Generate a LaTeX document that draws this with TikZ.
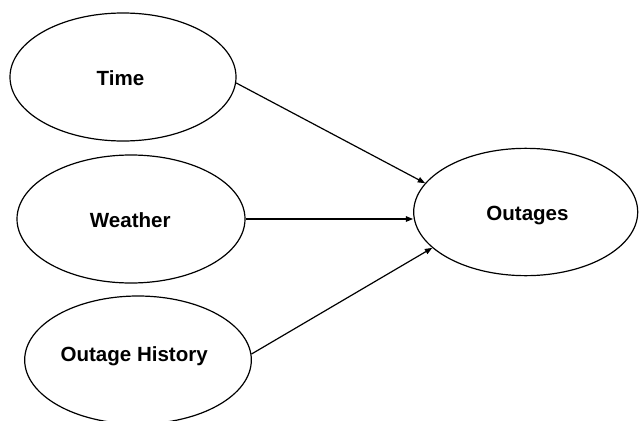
\documentclass[tikz,border=0pt]{standalone}
\usepackage{fontspec}
\setmainfont{Liberation Sans}
\usetikzlibrary{shapes.geometric,arrows.meta}
\begin{document}
\begin{tikzpicture}[x=0.75pt,y=-0.75pt,
  oval/.style={draw,line width=0.9pt,ellipse,inner sep=0pt},
  txt/.style={inner sep=0pt,text height=0.72em,text depth=0pt,font=\fontsize{15.4pt}{18pt}\selectfont\bfseries},
  conn/.style={line width=0.9pt,-{Triangle[length=5.5pt,width=4.2pt]}}]
\useasboundingbox[fill=white] (0,0) rectangle (639,421);
\node[oval,minimum width=169.5pt,minimum height=96pt] (time) at (123,77) {};
\node[oval,minimum width=171pt,minimum height=96pt] (weather) at (131,219) {};
\node[oval,minimum width=170pt,minimum height=96pt] (history) at (138,360) {};
\node[oval,minimum width=168pt,minimum height=95.5pt] (outages) at (525.7,212) {};
\node[txt] (timetext) at (120.5,80.3) {Time};
\node[txt] (weathertext) at (130.3,222.2) {Weather};
\node[txt] (historytext) at (134.2,356.8) {Outage History};
\node[txt] (outagestext) at (527.5,215.8) {Outages};
\draw[conn] (time.-3.5) -- (outages.164.7);
\draw[conn] (weather.east) -- (outages.west |- weather.east);
\draw[conn] (history.3.7) -- (outages.-159);
\end{tikzpicture}
\end{document}
